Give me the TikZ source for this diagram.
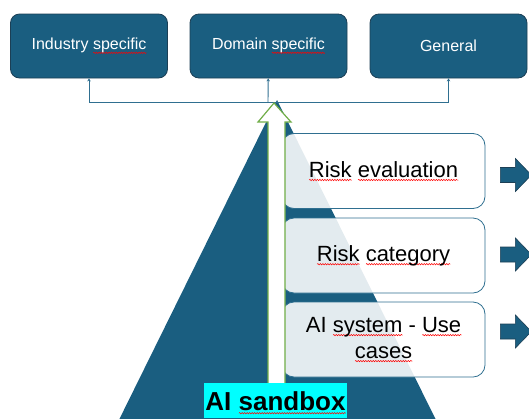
\documentclass[tikz,border=0pt]{standalone}
\usepackage{fontspec}
\setmainfont{Liberation Sans}
\usepackage{xcolor}
\usetikzlibrary{positioning, calc, arrows.meta, decorations.pathmorphing}

\definecolor{sbblue}{HTML}{1A5E80}
\definecolor{sbdark}{HTML}{1C3F55}
\definecolor{sbline}{HTML}{2F6F90}
\definecolor{sbgreen}{HTML}{70AD47}
\definecolor{sbcyan}{HTML}{00FFFF}

% red wavy underline, as the spell check marks it
\newsavebox{\spellbox}
\newcommand{\spell}[1]{\leavevmode\sbox{\spellbox}{#1}\rlap{\tikz[baseline=0pt, x=1pt, y=1pt]\draw[red, line width=0.5pt, sharp corners, decorate, decoration={snake, amplitude=0.7pt, segment length=2.5pt}] (0pt,-3pt) -- (\the\wd\spellbox,-3pt);}\usebox{\spellbox}}

\begin{document}
\begin{tikzpicture}[x=1pt, y=-1pt,
    topbox/.style={rectangle, rounded corners=9pt, draw=sbdark, line width=0.8pt, fill=sbblue, text=white, minimum width=157pt, minimum height=64pt, font=\fontsize{16}{19}\selectfont},
    riskbox/.style={rectangle, rounded corners=12pt, draw=sbline, line width=0.8pt, fill=white, fill opacity=0.88, text opacity=1, minimum width=203pt, minimum height=75pt, align=center, font=\fontsize{22}{26}\selectfont},
    link/.style={draw=sbline, line width=0.9pt, -{Stealth[length=3pt, width=3.5pt]}}]
    \useasboundingbox (0,0) rectangle (529,418);
    \clip (0,0) rectangle (529,418);

    \fill[sbblue] (113,432) -- (277,100) -- (442,432) -- cycle;

    \node[topbox] (ind) at (89,46) {Industry \spell{specific}};
    \node[topbox] (dom) at (268.5,46) {Domain \spell{specific}};
    \node[topbox] (gen) at (448.5,46) {General};

    \coordinate (hub) at (268,102);
    \draw[link] (hub) -| (ind);
    \draw[link] (hub) -| (gen);
    \draw[link] (hub) -- (dom);

    \node[riskbox] (eval) at (383.5,171) {\spell{Risk} \spell{evaluation}};
    \node[riskbox] (cat) at (383.5,255.5) {\spell{Risk} \spell{category}};
    \node[riskbox] (use) at (383.5,339.5) {AI \spell{system} - \spell{Use}\\\spell{cases}};

    % hollow arrow up to the hub
    \draw[sbgreen, line width=1.2pt, fill=white] (268,390) -- (268,122) -- (258,122) -- (274,103) -- (291,122) -- (285,122) -- (285,390) -- cycle;

    \node[fill=sbcyan, text=black, font=\fontsize{26}{30}\selectfont\bfseries, inner xsep=1pt, inner ysep=0pt, text height=27pt, text depth=8pt, anchor=north] (box) at (275.5,383) {AI \spell{sandbox}};

    \foreach \b/\dy in {eval/4, cat/-1, use/-8}
        \filldraw[sbblue, draw=sbdark, line width=0.6pt] ($(\b.east)+(15,\dy-7.5)$) -- ++(15,0) -- ++(0,-9) -- ++(16,16.5) -- ++(-16,16.5) -- ++(0,-9) -- ++(-15,0) -- cycle;
\end{tikzpicture}
\end{document}
